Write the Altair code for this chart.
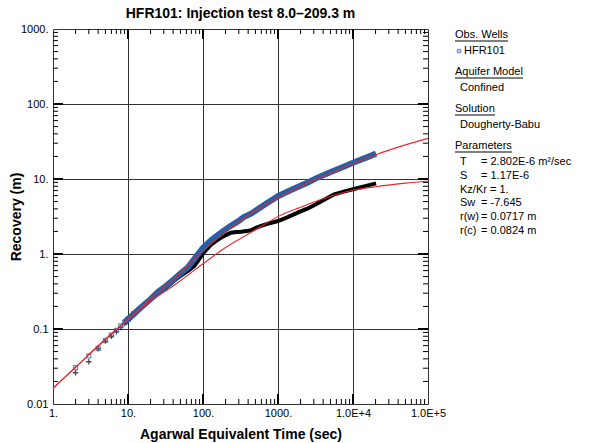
import altair as alt
import pandas as pd

# ---------------- data ----------------
title_text = "HFR101: Injection test 8.0–209.3 m"
x_title = "Agarwal Equivalent Time (sec)"
y_title = "Recovery (m)"

x_tick_values = [1, 10, 100, 1000, 10000, 100000]
x_tick_labels = ["1.", "10.", "100.", "1000.", "1.0E+4", "1.0E+5"]
y_tick_values = [0.01, 0.1, 1, 10, 100, 1000]
y_tick_labels = ["0.01", "0.1", "1.", "10.", "100.", "1000."]

# observed recovery (blue squares)
obs_t = [2, 3, 4, 5, 6, 7, 8, 9, 10, 12, 15, 20, 25, 31.6, 40, 50, 62.5, 80, 100, 130, 174, 230,
         290, 350, 437, 536, 700, 1000, 1350, 1830, 2500, 3210, 4300, 5640, 7500, 10000, 15000, 20300]
obs_s = [0.0305, 0.0437, 0.055, 0.0706, 0.083, 0.096, 0.11, 0.122, 0.135, 0.16, 0.195, 0.25, 0.31,
         0.37, 0.45, 0.55, 0.66, 0.91, 1.21, 1.55, 1.92, 2.35, 2.7, 3.1, 3.44, 3.95, 4.7, 5.9, 6.8,
         7.8, 9.0, 10.2, 11.6, 13.0, 14.6, 16.5, 19.3, 21.8]

# second data set (black crosses)
der_t = [2, 3, 4, 5, 6, 7, 8, 9, 10, 12, 15, 20, 25, 31.6, 40, 50, 62.5, 75, 85, 100, 128, 150,
         174, 205, 236, 280, 321, 380, 437, 536, 700, 1000, 1350, 1830, 2500, 3210, 4300, 5640,
         7500, 10000, 15000, 20300]
der_s = [0.0261, 0.0366, 0.0547, 0.069, 0.08, 0.092, 0.105, 0.118, 0.13, 0.155, 0.19, 0.245, 0.295,
         0.35, 0.43, 0.51, 0.59, 0.68, 0.8, 1.02, 1.33, 1.5, 1.65, 1.8, 1.92, 1.96, 1.98, 2.02,
         2.07, 2.29, 2.5, 2.75, 3.1, 3.56, 4.05, 4.6, 5.4, 6.25, 6.8, 7.3, 8.1, 8.75]

# type curves (red)
fitA_t = [1, 2, 5, 10, 20, 50, 100, 200, 500, 1000, 2000, 5000, 10000, 20000, 50000, 100000]
fitA_s = [0.0162, 0.031, 0.073, 0.134, 0.255, 0.56, 1.1, 1.97, 3.8, 5.6, 8.0, 12.0, 16.0, 21.0, 28.5, 34.8]
fitB_t = [1, 2, 5, 10, 20, 31.6, 50, 100, 200, 500, 1000, 2000, 5000, 10000, 20000, 50000, 100000]
fitB_s = [0.0162, 0.031, 0.073, 0.134, 0.235, 0.32, 0.44, 0.74, 1.22, 2.1, 3.15, 4.2, 5.9, 7.07, 7.9, 8.8, 9.4]

legend_headings = ["Obs. Wells", "Aquifer Model", "Solution", "Parameters"]
legend_items = ["HFR101", "Confined", "Dougherty-Babu"]
param_names = ["T", "S", "", "Sw", "r(w)", "r(c)"]
param_values = ["= 2.802E-6 m²/sec", "= 1.17E-6", "Kz/Kr = 1.", "= -7.645", "= 0.0717 m", "= 0.0824 m"]

# ---------------- styling ----------------
FONT = "Liberation Sans"
BLUE = "#2560a6"
RED = "#e8262b"
W, H = 375, 375
PAD_L, PAD_T = 53, 29

df_obs = pd.DataFrame({"t": obs_t, "v": obs_s})
df_der = pd.DataFrame({"t": der_t, "v": der_s})
df_fitA = pd.DataFrame({"t": fitA_t, "v": fitA_s})
df_fitB = pd.DataFrame({"t": fitB_t, "v": fitB_s})

minor_x = [k * 10 ** d for d in range(0, 5) for k in range(2, 10)]
major_x = x_tick_values[1:-1]
minor_y = [k * 10.0 ** d for d in range(-2, 3) for k in range(2, 10)]
major_y = y_tick_values[1:-1]


def label_expr(values, labels):
    expr = "'" + labels[-1] + "'"
    for v, l in reversed(list(zip(values[:-1], labels[:-1]))):
        expr = f"datum.value < {v * 3.1623} ? '{l}' : " + expr
    return expr


xscale = alt.Scale(type="log", domain=[1, 100000], nice=False)
yscale = alt.Scale(type="log", domain=[0.01, 1000], nice=False)

x_axis = alt.Axis(values=x_tick_values, labelExpr=label_expr(x_tick_values, x_tick_labels),
                  grid=True, ticks=False, domain=False, gridColor="#333333", gridWidth=1,
                  labelFont=FONT, labelFontSize=11, labelColor="black", labelPadding=3,
                  labelFlush=False, labelOverlap=False, labelBound=False,
                  titleFont=FONT, titleFontSize=14, titleFontWeight="bold", titleColor="black",
                  titleX=W / 2, titleY=30, titleAlign="center", titleBaseline="middle")
y_axis = alt.Axis(values=y_tick_values, labelExpr=label_expr(y_tick_values, y_tick_labels),
                  grid=True, ticks=False, domain=False, gridColor="#333333", gridWidth=1,
                  labelFont=FONT, labelFontSize=11, labelColor="black", labelPadding=5,
                  labelFlush=False, labelOverlap=False, labelBound=False,
                  titleFont=FONT, titleFontSize=14, titleFontWeight="bold", titleColor="black",
                  titleX=-37, titleY=H / 2, titleAngle=270, titleAlign="center", titleBaseline="middle")

X = alt.X("t:Q", scale=xscale, axis=x_axis, title=x_title)
Y = alt.Y("v:Q", scale=yscale, axis=y_axis, title=y_title)

layers = []

# crosses (drawn first, partly under the blue band)
layers.append(alt.Chart(df_der).transform_filter(alt.datum.t >= 9)
              .mark_line(color="black", strokeWidth=4).encode(x=X, y=Y))
layers.append(alt.Chart(df_der).transform_filter(alt.datum.t <= 12)
              .mark_point(shape="M-1,0H1M0,-1V1", filled=False, size=30,
                          strokeWidth=1.3, color="black").encode(x=X, y=Y))
# observed data: dense band + discrete early squares
layers.append(alt.Chart(df_obs).transform_filter(alt.datum.t >= 9)
              .mark_line(color=BLUE, strokeWidth=6).encode(x=X, y=Y))
layers.append(alt.Chart(df_obs).transform_filter(alt.datum.t <= 12)
              .mark_point(shape="square", filled=False, size=16, strokeWidth=1.3,
                          color=BLUE).encode(x=X, y=Y))
# fitted curves
layers.append(alt.Chart(df_fitA).mark_line(color=RED, strokeWidth=1.1, interpolate="monotone")
              .encode(x=X, y=Y))
layers.append(alt.Chart(df_fitB).mark_line(color=RED, strokeWidth=1.1, interpolate="monotone")
              .encode(x=X, y=Y))

# inward ticks on all four sides
dfx_min = pd.DataFrame({"t": minor_x})
dfx_maj = pd.DataFrame({"t": major_x})
dfy_min = pd.DataFrame({"v": minor_y})
dfy_maj = pd.DataFrame({"v": major_y})
for df, ln, sw in [(dfx_min, 5, 1), (dfx_maj, 10, 2)]:
    layers.append(alt.Chart(df).mark_rule(color="black", strokeWidth=sw)
                  .encode(x=X, y=alt.value(H), y2=alt.value(H - ln)))
    layers.append(alt.Chart(df).mark_rule(color="black", strokeWidth=sw)
                  .encode(x=X, y=alt.value(0), y2=alt.value(ln)))
for df, ln, sw in [(dfy_min, 5, 1), (dfy_maj, 10, 2)]:
    layers.append(alt.Chart(df).mark_rule(color="black", strokeWidth=sw)
                  .encode(y=Y, x=alt.value(0), x2=alt.value(ln)))
    layers.append(alt.Chart(df).mark_rule(color="black", strokeWidth=sw)
                  .encode(y=Y, x=alt.value(W), x2=alt.value(W - ln)))

one = alt.Data(values=[{"a": 0}])


def txt(s, px, py, size=11, weight="normal", align="left"):
    return alt.Chart(one).mark_text(text=s, font=FONT, fontSize=size, fontWeight=weight,
                                    align=align, baseline="middle", color="black").encode(
        x=alt.value(px - PAD_L), y=alt.value(py - PAD_T))


def uline(px1, px2, py):
    return alt.Chart(one).mark_rule(color="black", strokeWidth=1).encode(
        x=alt.value(px1 - PAD_L), x2=alt.value(px2 - PAD_L), y=alt.value(py - PAD_T))


# chart title
layers.append(txt(title_text, PAD_L + W / 2, 14, size=14, weight="bold", align="center"))

# right-hand legend panel
LX = 455
head_y = [35, 72, 109, 146]
head_w = [53, 68, 40, 57]
for s, yy, ww in zip(legend_headings, head_y, head_w):
    layers.append(txt(s, LX, yy))
    layers.append(uline(LX, LX + ww, yy + 6))

layers.append(alt.Chart(one).mark_point(shape="square", filled=True, size=12, color=BLUE,
                                        stroke=BLUE, fill="#8fb4e3", strokeWidth=1).encode(
    x=alt.value(459 - PAD_L), y=alt.value(51 - PAD_T)))
layers.append(txt(legend_items[0], 464, 51))
layers.append(txt(legend_items[1], 460, 88))
layers.append(txt(legend_items[2], 460, 125))

py = 162
for name, val in zip(param_names, param_values):
    if name:
        layers.append(txt(name, 460, py))
        layers.append(txt(val, 481, py))
    else:
        layers.append(txt(val, 460, py))
    py += 13.8

chart = alt.layer(*layers).properties(
    width=W, height=H,
    autosize=alt.AutoSizeParams(type="none"),
    padding={"left": PAD_L, "top": PAD_T, "right": 590 - PAD_L - W, "bottom": 443 - PAD_T - H},
).configure_view(stroke="black", strokeWidth=1.5).configure(background="white")

chart.save("out.html", embed_options={"renderer": "svg", "actions": False})
